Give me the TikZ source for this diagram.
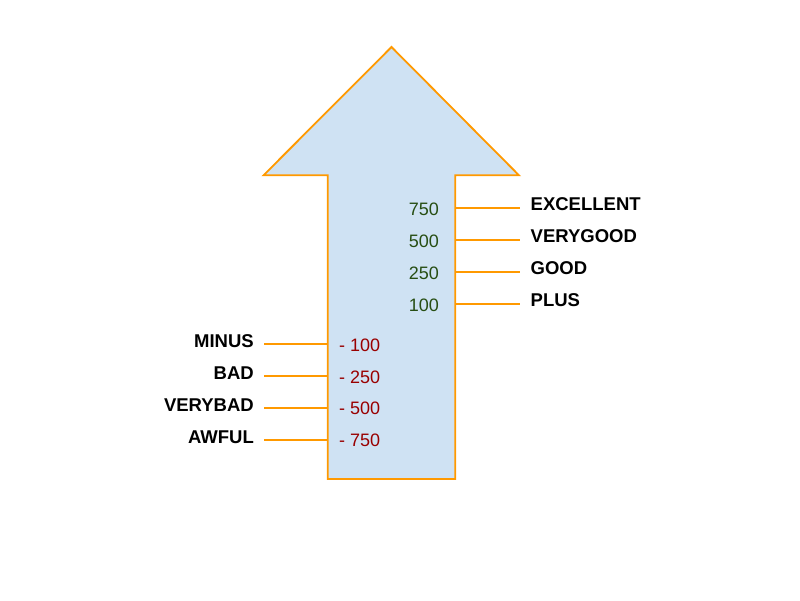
\documentclass[tikz,border=0pt]{standalone}
\usepackage{fontspec}
\setmainfont{Liberation Sans}
\definecolor{arrowfill}{HTML}{CFE2F3}
\definecolor{arroworange}{HTML}{FF9900}
\definecolor{goodgreen}{HTML}{274E13}
\definecolor{badred}{HTML}{990000}
\begin{document}
\begin{tikzpicture}[x=1pt,y=-1pt,
  arrowshape/.style={draw=arroworange, fill=arrowfill, line width=1.8pt, line join=miter},
  tick/.style={draw=arroworange, line width=1.8pt},
  lbl/.style={font=\fontsize{18.5}{20}\selectfont\bfseries, inner sep=0pt, text height=13.2pt, text depth=0pt},
  goodnum/.style={font=\fontsize{18}{20}\selectfont, text=goodgreen, inner sep=0pt, text height=12.9pt, text depth=0pt},
  badnum/.style={font=\fontsize{18}{20}\selectfont, text=badred, inner sep=0pt, text height=12.9pt, text depth=0pt}]
\useasboundingbox (0,0) rectangle (800,600);
\draw[arrowshape] (391.5,47) -- (519,175.3) -- (455.3,175.3) -- (455.3,479) -- (327.7,479) -- (327.7,175.3) -- (263.5,175.3) -- cycle;

% right side
\coordinate (ra1) at (455.3,208); \coordinate (rb1) at (520,208);
\coordinate (ra2) at (455.3,240); \coordinate (rb2) at (520,240);
\coordinate (ra3) at (455.3,272); \coordinate (rb3) at (520,272);
\coordinate (ra4) at (455.3,304); \coordinate (rb4) at (520,304);
\draw[tick] (ra1) -- (rb1);
\draw[tick] (ra2) -- (rb2);
\draw[tick] (ra3) -- (rb3);
\draw[tick] (ra4) -- (rb4);
\node[lbl, anchor=west] (excellent) at (530.5,204) {EXCELLENT};
\node[lbl, anchor=west] (verygood) at (530.5,236) {VERYGOOD};
\node[lbl, anchor=west] (good) at (530.5,268) {GOOD};
\node[lbl, anchor=west] (plus) at (530.5,299.5) {PLUS};
\node[goodnum, anchor=east] (n750) at (439,209) {750};
\node[goodnum, anchor=east] (n500) at (439,241) {500};
\node[goodnum, anchor=east] (n250) at (439,273) {250};
\node[goodnum, anchor=east] (n100) at (439,305) {100};

% left side
\coordinate (la1) at (264,344); \coordinate (lb1) at (327.7,344);
\coordinate (la2) at (264,376); \coordinate (lb2) at (327.7,376);
\coordinate (la3) at (264,408); \coordinate (lb3) at (327.7,408);
\coordinate (la4) at (264,440); \coordinate (lb4) at (327.7,440);
\draw[tick] (la1) -- (lb1);
\draw[tick] (la2) -- (lb2);
\draw[tick] (la3) -- (lb3);
\draw[tick] (la4) -- (lb4);
\node[lbl, anchor=east] (minus) at (254,340.5) {MINUS};
\node[lbl, anchor=east] (bad) at (254,372.5) {BAD};
\node[lbl, anchor=east] (verybad) at (254,404.5) {VERYBAD};
\node[lbl, anchor=east] (awful) at (254,436.5) {AWFUL};
\node[badnum, anchor=west] (m100) at (339,345) {- 100};
\node[badnum, anchor=west] (m250) at (339,377) {- 250};
\node[badnum, anchor=west] (m500) at (339,408.5) {- 500};
\node[badnum, anchor=west] (m750) at (339,440) {- 750};
\end{tikzpicture}
\end{document}
